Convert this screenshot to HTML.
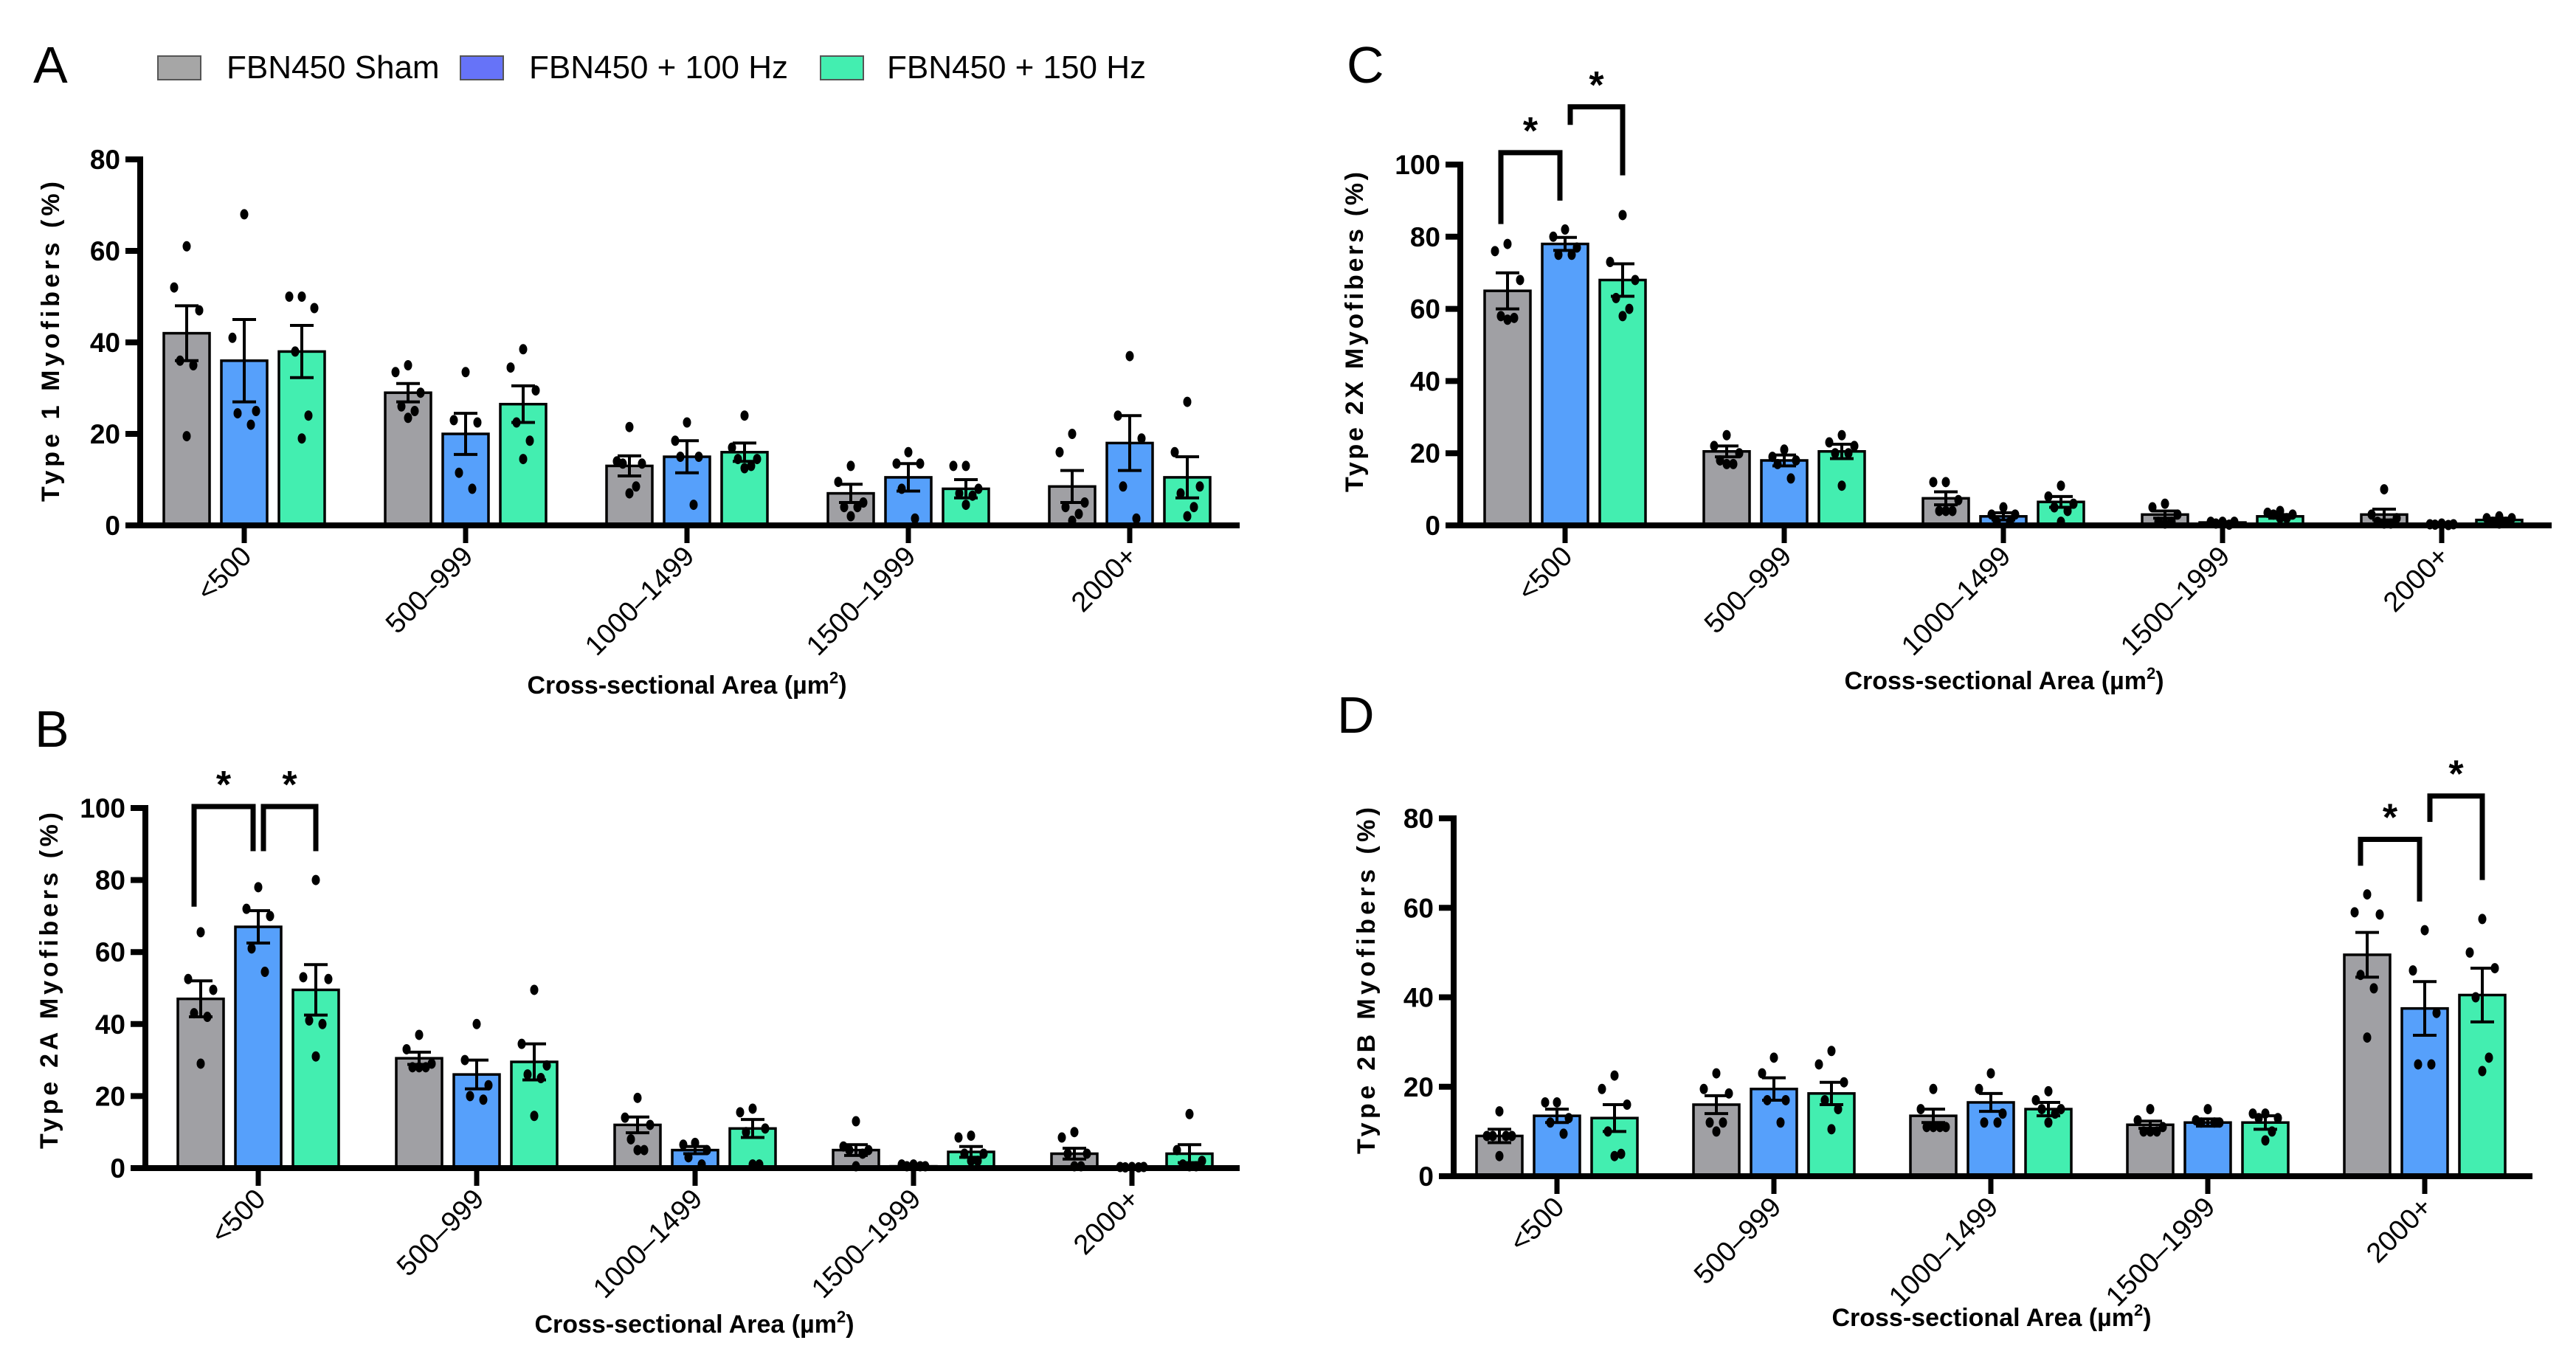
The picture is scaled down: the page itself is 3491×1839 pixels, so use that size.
<!DOCTYPE html>
<html><head><meta charset="utf-8"><style>
html,body{margin:0;padding:0;background:#fff}
svg{display:block}
text{font-family:"Liberation Sans",Arial,sans-serif}
</style></head><body>
<svg id="fig" width="3491" height="1839" viewBox="0 0 3491 1839" xmlns="http://www.w3.org/2000/svg">
<rect width="3491" height="1839" fill="#fff"/>
<g>
<rect x="214" y="76" width="58" height="32" fill="#a6a6a6" stroke="#555" stroke-width="2"/>
<text x="307" y="106" font-size="44">FBN450 Sham</text>
<rect x="624" y="76" width="58" height="32" fill="#6673f8" stroke="#555" stroke-width="2"/>
<text x="717" y="106" font-size="44">FBN450 + 100 Hz</text>
<rect x="1112" y="76" width="58" height="32" fill="#43eeb0" stroke="#555" stroke-width="2"/>
<text x="1202" y="106" font-size="44">FBN450 + 150 Hz</text>
</g>
</svg>
<script>
const categories = ["<500","500\u2013999","1000\u20131499","1500\u20131999","2000+"];
// Panel A (Type 1)
const aSham = [42,29,13,7,8.5];
const a100 = [36,20,15,10.5,18];
const a150 = [38,26.5,16,8,10.5];
const aSemSham = [6,2,2.2,2,3.5];
const aSem100 = [9,4.5,3.5,3,6];
const aSem150 = [5.7,4,2,2,4.5];
const aPtsSham = [[61,52,47,36,35,19.5],[35,33.5,29,26,25,23.5],[21.5,14,13.5,13.5,8.5,7],[13,9.5,5,4,4,2],[20,16,5,4,2.5,1]];
const aPts100 = [[68,41,25,24.5,22],[33.5,23,22.5,11.5,8],[22.5,18.5,15,15,4.5],[16,13.5,13.5,8,1.5],[37,24,19,8.5,1.5]];
const aPts150 = [[50,50,47.5,38,24,19],[38.5,34.5,29.5,22.5,18.5,14.5],[24,17,14.5,14.5,13,12.5],[13,13,8,7,6.5,4.5],[27,16,8.5,7,4,2]];
// Panel B (Type 2A)
const bSham = [47,30.5,12,5,4];
const b100 = [67,26,5,0.5,0.2];
const b150 = [49.5,29.5,11,4.5,4];
const bSemSham = [5,1.7,2.2,1.5,1.5];
const bSem100 = [4.5,4,1,0.2,0.1];
const bSem150 = [7,5,2.5,1.5,2.5];
const bPtsSham = [[65.5,52.5,49.5,43,42,29],[37,33,29,28,28,28],[19.5,14,12,8,5,5],[13,6,5,5,4,0.5],[10,8.5,4,4,0.5,0.5]];
const bPts100 = [[78,72,70,61,54.5],[40,30,23,20,19],[7,6.5,5,3,1],[1,1,0.5,0.5,0.5],[0.3,0.3,0.3,0.2,0.2]];
const bPts150 = [[80,53,52.5,41,40,31],[49.5,34.5,28.5,26,25,14.5],[16.5,15.5,11,10,1,1],[9,8.5,4,4,2,2],[15,5,2,1,0.5,0.5]];
// Panel C (Type 2X)
const cSham = [65,20.5,7.5,3,3];
const c100 = [78,18,2.5,0.8,0.3];
const c150 = [68,20.5,6.5,2.5,1.5];
const cSemSham = [5,1.5,1.8,1,1.5];
const cSem100 = [1.8,1.5,1,0.2,0.1];
const cSem150 = [4.5,2,1.5,0.5,0.5];
const cPtsSham = [[78,76,68,58,57.5,57],[25,22,20,18,17,17],[12,12,7,4,4,4],[6,5,3,1,1,0.5],[10,3,2,1,0.5,0.5]];
const cPts100 = [[82,80,77,75,75],[21,19,18,17,13],[5,3,3,1,1],[1,1,1,0.5,0.2],[0.5,0.3,0.3,0.2,0.1]];
const cPts150 = [[86,73,68,63,60,58],[25,23,22,20,20,11],[11,8,6,5,4,1],[4,3.5,3,3,2,2],[2.5,2,2,1,1,0.5]];
// Panel D (Type 2B)
const dSham = [9,16,13.5,11.5,49.5];
const d100 = [13.5,19.5,16.5,12,37.5];
const d150 = [13,18.5,15,12,40.5];
const dSemSham = [1.5,2,1.5,0.8,5];
const dSem100 = [1.5,2.5,2,0.8,6];
const dSem150 = [3,2.5,1.5,1.5,6];
const dPtsSham = [[14.5,9,9,9,9,4.5],[23,19.5,18.5,12,12,10],[19.5,15,11,11,11,11],[15,12.5,11,10,10,10],[63,59,58.5,45,42,31]];
const dPts100 = [[16.5,16.5,13,12,9.5],[26.5,23,17,17,12],[23,19.5,14,12,12],[15,12.5,12,12,12],[55,46,36.5,25,25]];
const dPts150 = [[22.5,19.5,16,10,5,4.5],[28,25,21,17,15,10.5],[19,17,15,15,14,12],[14,14,13,13,10,8],[57.5,50,46.5,40,26.5,23.5]];
const yTicksA = [0,20,40,60,80];
const yTicksB = [0,20,40,60,80,100];
const yTicksC = [0,20,40,60,80,100];
const yTicksD = [0,20,40,60,80];
// significance brackets: [category, fromGroup, toGroup, barY, leftLegY, rightLegY]
const sigB = [[0,0,1,100.4,72.6,88],[0,1,2,100.4,88,88]];
const sigC = [[0,0,1,103.3,83.5,90],[0,1,2,116,111,97]];
const sigD = [[4,0,1,75.3,69.4,61.4],[4,1,2,85,79.2,66.2]];

const NS="http://www.w3.org/2000/svg";
const svg=document.getElementById('fig');
const colors=["#a0a0a4","#56a0fb","#43eeb0"];
function mk(tag,attrs,parent){const e=document.createElementNS(NS,tag);for(const k in attrs)e.setAttribute(k,attrs[k]);(parent||svg).appendChild(e);return e;}
const jit=[[0],[-10,10],[-14,0,14],[-16,-5,6,16],[0,-16,16,-9,9],[0,-17,17,-9,9,0]];

function panel(cfg){
  const g=mk('g',{});
  
  
  const yS=v=>cfg.y0-(v/cfg.yMax)*(cfg.y0-cfg.yTop);
  const xS=i=>cfg.c0+i*cfg.step;
  const offs=[-78,0,78];
  const means=cfg.means, sems=cfg.sems, pts=cfg.pts;
  for(let s=0;s<3;s++){
    for(let i=0;i<categories.length;i++){
      const cx=xS(i)+offs[s], m=means[s][i], e=sems[s][i];
      const bar=mk('rect',{x:cx-31,y:yS(m),width:62,height:cfg.y0-yS(m),fill:colors[s],stroke:'#000','stroke-width':3.5},g);
      
      
      const err=mk('path',{d:`M${cx},${yS(m-e)}V${yS(m+e)}M${cx-16},${yS(m+e)}H${cx+16}M${cx-16},${yS(m-e)}H${cx+16}`,stroke:'#000','stroke-width':4,fill:'none'},g);
      
      
      const p=pts[s][i], j=jit[p.length-1];
      p.forEach((v,k)=>{
        const d=mk('ellipse',{cx:cx+j[k],cy:yS(v),rx:5.5,ry:7,fill:'#000'},g);
        
        
      });
    }
  }
  const ax=mk('path',{d:`M${cfg.ax},${cfg.yTop-4}V${cfg.y0}H${cfg.xEnd}`,stroke:'#000','stroke-width':8,fill:'none'},g);
  
  
  cfg.ticks.forEach(t=>{
    mk('line',{x1:cfg.ax-20,x2:cfg.ax,y1:yS(t),y2:yS(t),stroke:'#000','stroke-width':8},g);
    const tl=mk('text',{x:cfg.ax-27,y:yS(t)+13,'font-size':37,'font-weight':'bold','text-anchor':'end'},g);
    tl.textContent=t;
    
    
  });
  categories.forEach((c,i)=>{
    mk('line',{x1:xS(i),x2:xS(i),y1:cfg.y0,y2:cfg.y0+24,stroke:'#000','stroke-width':7},g);
    const x=xS(i)+12,y=cfg.y0+44;
    const tl=mk('text',{x:x,y:y,'font-size':38,'text-anchor':'end',transform:`rotate(-45 ${x} ${y})`},g);
    tl.textContent=c;
    
    
  });
  const yt=mk('text',{x:0,y:0,'font-size':34,'font-weight':'bold','text-anchor':'middle',textLength:cfg.ytl,lengthAdjust:'spacing',transform:`translate(${cfg.ytx},${cfg.yty}) rotate(-90)`},g);
  yt.textContent=cfg.ytitle;
  
  
  const xt=mk('text',{x:cfg.xtx,y:cfg.xty,'font-size':34,'font-weight':'bold','text-anchor':'middle'},g);
  xt.innerHTML='Cross-sectional Area (\u00b5m<tspan dy="-14" font-size="22">2</tspan><tspan dy="14">)</tspan>';
  
  
  const pl=mk('text',{x:cfg.lx,y:cfg.ly,'font-size':70},g);
  pl.textContent=cfg.label;
  
  
  (cfg.sig||[]).forEach(b=>{
    const x1=xS(b[0])+offs[b[1]]+(b[1]===1?7:-9), x2=xS(b[0])+offs[b[2]]+(b[2]===1?-7:0);
    const br=mk('path',{d:`M${x1},${yS(b[4])}V${yS(b[3])}H${x2}V${yS(b[5])}`,stroke:'#000','stroke-width':7,fill:'none'},g);
    
    
    const st=mk('text',{x:(x1+x2)/2,y:yS(b[3])-12,'font-size':52,'font-weight':'bold','text-anchor':'middle'},g);
    st.textContent='*';
    
    
  });
}
panel({name:'panel-a-type1',key:'a',label:'A',lx:45,ly:112,ax:190,xEnd:1680,c0:331,step:300,y0:712,yTop:216,yMax:80,ticks:yTicksA,
  means:[aSham,a100,a150],sems:[aSemSham,aSem100,aSem150],pts:[aPtsSham,aPts100,aPts150],
  ytitle:'Type 1 Myofibers (%)',ytl:434,ytx:80,yty:463,xtx:931,xty:940});
panel({name:'panel-b-type2a',key:'b',label:'B',lx:47,ly:1012,ax:197,xEnd:1680,c0:350,step:296,y0:1583,yTop:1095,yMax:100,ticks:yTicksB,
  means:[bSham,b100,b150],sems:[bSemSham,bSem100,bSem150],pts:[bPtsSham,bPts100,bPts150],sig:sigB,
  ytitle:'Type 2A Myofibers (%)',ytl:456,ytx:78,yty:1329,xtx:941,xty:1806});
panel({name:'panel-c-type2x',key:'c',label:'C',lx:1825,ly:112,ax:1979,xEnd:3458,c0:2121,step:297,y0:712,yTop:223,yMax:100,ticks:yTicksC,
  means:[cSham,c100,c150],sems:[cSemSham,cSem100,cSem150],pts:[cPtsSham,cPts100,cPts150],sig:sigC,
  ytitle:'Type 2X Myofibers (%)',ytl:434,ytx:1847,yty:450,xtx:2716,xty:934});
panel({name:'panel-d-type2b',key:'d',label:'D',lx:1812,ly:993,ax:1970,xEnd:3432,c0:2110,step:294,y0:1594,yTop:1109,yMax:80,ticks:yTicksD,
  means:[dSham,d100,d150],sems:[dSemSham,dSem100,dSem150],pts:[dPtsSham,dPts100,dPts150],sig:sigD,
  ytitle:'Type 2B Myofibers (%)',ytl:470,ytx:1863,yty:1329,xtx:2699,xty:1797});
</script>
</body></html>
